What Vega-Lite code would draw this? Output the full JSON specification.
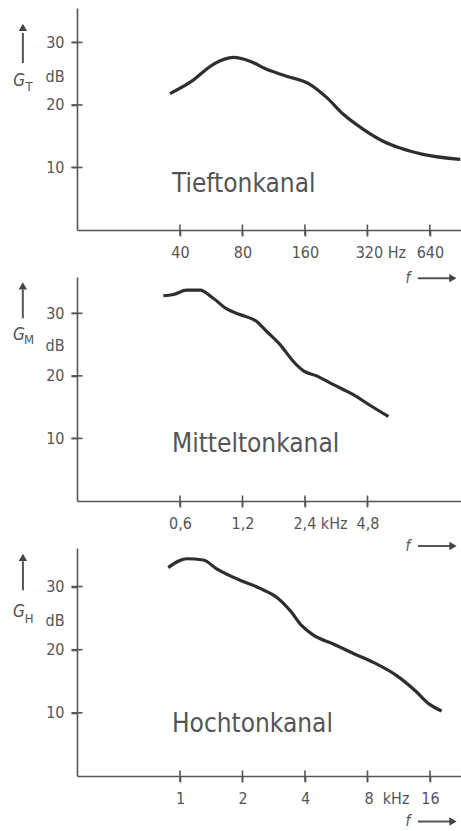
{
  "$schema": "https://vega.github.io/schema/vega-lite/v6.json",
  "background": "white",
  "padding": {"left": 13, "top": 8, "right": 0, "bottom": 4},
  "autosize": {"type": "pad"},
  "bounds": "flush",
  "spacing": 47,
  "config": {
    "view": {"stroke": null},
    "font": "'DejaVu Sans Condensed', 'DejaVu Sans', sans-serif",
    "axis": {
      "domain": true,
      "domainColor": "#555",
      "domainWidth": 1.6,
      "grid": false,
      "ticks": true,
      "tickSize": 6,
      "tickWidth": 1.6,
      "tickColor": "#555",
      "labelColor": "#555",
      "labelFont": "'DejaVu Sans Condensed', 'DejaVu Sans', sans-serif",
      "labelFontSize": 16,
      "labelOverlap": false,
      "labelFlush": false,
      "labelBound": false,
      "title": null
    },
    "axisX": {"labelPadding": 8},
    "axisY": {"labelPadding": 7},
    "tick": {"thickness": 1.6, "color": "#555", "opacity": 1}
  },
  "vconcat": [
    {
      "width": 384,
      "height": 222,
      "layer": [
        {
          "data": {"values": [
            {"f": 35.8, "dB": 21.8}, {"f": 45.6, "dB": 23.8}, {"f": 57.9, "dB": 26.5}, {"f": 72.3, "dB": 27.6},
            {"f": 87, "dB": 27.0}, {"f": 104.6, "dB": 25.7}, {"f": 130.6, "dB": 24.6}, {"f": 169, "dB": 23.3},
            {"f": 203.6, "dB": 21.2}, {"f": 245, "dB": 18.5}, {"f": 306, "dB": 16.1}, {"f": 381, "dB": 14.2},
            {"f": 460, "dB": 13.1}, {"f": 592, "dB": 12.1}, {"f": 897, "dB": 11.3}
          ]},
          "mark": {"type": "line", "interpolate": "monotone", "color": "#2e2e2e", "strokeWidth": 3.2, "clip": false},
          "encoding": {
            "x": {"field": "f", "type": "quantitative", "scale": {"type": "log", "base": 2, "domain": [12.76, 904], "nice": false},
                  "axis": {"values": [40, 80, 160, 320, 640], "labelExpr": "datum.value == 320 ? '320 Hz' : format(datum.value, 'd')",
                           "labelOffset": {"condition": {"test": "datum.value == 320", "value": 13}, "value": 0}}},
            "y": {"field": "dB", "type": "quantitative", "scale": {"domain": [0, 35.5], "nice": false, "zero": false},
                  "axis": {"values": [10, 20, 24.6, 30], "labelExpr": "datum.value == 24.6 ? 'dB' : format(datum.value, 'd')",
                           "tickOpacity": {"condition": {"test": "datum.value == 24.6", "value": 0}, "value": 1}}}
          }
        },
        {
          "data": {"values": [{"f": 40, "dB": 0}, {"f": 80, "dB": 0}, {"f": 160, "dB": 0}, {"f": 320, "dB": 0}, {"f": 640, "dB": 0}]},
          "mark": {"type": "tick", "orient": "vertical", "size": 11, "clip": false},
          "encoding": {"x": {"field": "f", "type": "quantitative"}, "y": {"field": "dB", "type": "quantitative"}}
        },
        {
          "data": {"values": [{"f": 12.76, "dB": 10}, {"f": 12.76, "dB": 20}, {"f": 12.76, "dB": 30}]},
          "mark": {"type": "tick", "orient": "horizontal", "size": 11, "clip": false},
          "encoding": {"x": {"field": "f", "type": "quantitative"}, "y": {"field": "dB", "type": "quantitative"}}
        },
        {
          "data": {"values": [{"f": 36.6, "dB": 7.4, "text": "Tieftonkanal"}]},
          "mark": {"type": "text", "align": "left", "baseline": "middle", "fontSize": 26, "color": "#555", "clip": false},
          "encoding": {"x": {"field": "f", "type": "quantitative"}, "y": {"field": "dB", "type": "quantitative"}, "text": {"field": "text"}}
        },
        {
          "data": {"values": [{"f": 6.71, "dB": 23.8, "text": "G"}]},
          "mark": {"type": "text", "align": "center", "baseline": "middle", "fontSize": 17, "fontStyle": "italic", "color": "#555", "clip": false},
          "encoding": {"x": {"field": "f", "type": "quantitative"}, "y": {"field": "dB", "type": "quantitative"}, "text": {"field": "text"}}
        },
        {
          "data": {"values": [{"f": 7.5, "dB": 22.9, "text": "T"}]},
          "mark": {"type": "text", "align": "center", "baseline": "middle", "fontSize": 13, "color": "#555", "clip": false},
          "encoding": {"x": {"field": "f", "type": "quantitative"}, "y": {"field": "dB", "type": "quantitative"}, "text": {"field": "text"}}
        },
        {
          "data": {"values": [{"f": 501, "dB": -7.7, "text": "f"}]},
          "mark": {"type": "text", "align": "center", "baseline": "middle", "fontSize": 15, "fontStyle": "italic", "color": "#555", "clip": false},
          "encoding": {"x": {"field": "f", "type": "quantitative"}, "y": {"field": "dB", "type": "quantitative"}, "text": {"field": "text"}}
        },
        {
          "data": {"values": [{"f": 7.0, "dB": 26.7, "dB2": 31.5}]},
          "mark": {"type": "rule", "color": "#555", "strokeWidth": 2, "clip": false},
          "encoding": {"x": {"field": "f", "type": "quantitative"}, "y": {"field": "dB", "type": "quantitative"}, "y2": {"field": "dB2"}}
        },
        {
          "data": {"values": [{"f": 7.0, "dB": 32.4}]},
          "mark": {"type": "point", "shape": "triangle-up", "filled": true, "size": 70, "color": "#444", "opacity": 1, "clip": false},
          "encoding": {"x": {"field": "f", "type": "quantitative"}, "y": {"field": "dB", "type": "quantitative"}}
        },
        {
          "data": {"values": [{"f": 560, "f2": 805, "dB": -7.7}]},
          "mark": {"type": "rule", "color": "#555", "strokeWidth": 2, "clip": false},
          "encoding": {"x": {"field": "f", "type": "quantitative"}, "x2": {"field": "f2"}, "y": {"field": "dB", "type": "quantitative"}}
        },
        {
          "data": {"values": [{"f": 826, "dB": -7.7}]},
          "mark": {"type": "point", "shape": "triangle-right", "filled": true, "size": 70, "color": "#444", "opacity": 1, "clip": false},
          "encoding": {"x": {"field": "f", "type": "quantitative"}, "y": {"field": "dB", "type": "quantitative"}}
        }
      ]
    },
    {
      "width": 384,
      "height": 224,
      "layer": [
        {
          "data": {"values": [
            {"f": 0.499, "dB": 32.8}, {"f": 0.557, "dB": 33.0}, {"f": 0.646, "dB": 33.7}, {"f": 0.749, "dB": 33.7},
            {"f": 0.868, "dB": 32.4}, {"f": 1.007, "dB": 30.7}, {"f": 1.167, "dB": 29.8}, {"f": 1.405, "dB": 28.7},
            {"f": 1.57, "dB": 27.1}, {"f": 1.82, "dB": 25.0}, {"f": 2.11, "dB": 22.3}, {"f": 2.36, "dB": 20.8},
            {"f": 2.73, "dB": 20.0}, {"f": 3.29, "dB": 18.6}, {"f": 4.10, "dB": 17.0}, {"f": 4.93, "dB": 15.3},
            {"f": 6.05, "dB": 13.5}
          ]},
          "mark": {"type": "line", "interpolate": "monotone", "color": "#2e2e2e", "strokeWidth": 3.2, "clip": false},
          "encoding": {
            "x": {"field": "f", "type": "quantitative", "scale": {"type": "log", "base": 2, "domain": [0.1915, 13.54], "nice": false},
                  "axis": {"values": [0.6, 1.2, 2.4, 4.8], "labelExpr": "replace(format(datum.value, '.1f'), '.', ',') + (datum.value == 2.4 ? ' kHz' : '')",
                           "labelOffset": {"condition": {"test": "datum.value == 2.4", "value": 15}, "value": 0}}},
            "y": {"field": "dB", "type": "quantitative", "scale": {"domain": [0, 35.8], "nice": false, "zero": false},
                  "axis": {"values": [10, 20, 24.8, 30], "labelExpr": "datum.value == 24.8 ? 'dB' : format(datum.value, 'd')",
                           "tickOpacity": {"condition": {"test": "datum.value == 24.8", "value": 0}, "value": 1}}}
          }
        },
        {
          "data": {"values": [{"f": 0.6, "dB": 0}, {"f": 1.2, "dB": 0}, {"f": 2.4, "dB": 0}, {"f": 4.8, "dB": 0}]},
          "mark": {"type": "tick", "orient": "vertical", "size": 11, "clip": false},
          "encoding": {"x": {"field": "f", "type": "quantitative"}, "y": {"field": "dB", "type": "quantitative"}}
        },
        {
          "data": {"values": [{"f": 0.1915, "dB": 10}, {"f": 0.1915, "dB": 20}, {"f": 0.1915, "dB": 30}]},
          "mark": {"type": "tick", "orient": "horizontal", "size": 11, "clip": false},
          "encoding": {"x": {"field": "f", "type": "quantitative"}, "y": {"field": "dB", "type": "quantitative"}}
        },
        {
          "data": {"values": [{"f": 0.549, "dB": 9.06, "text": "Mitteltonkanal"}]},
          "mark": {"type": "text", "align": "left", "baseline": "middle", "fontSize": 26, "color": "#555", "clip": false},
          "encoding": {"x": {"field": "f", "type": "quantitative"}, "y": {"field": "dB", "type": "quantitative"}, "text": {"field": "text"}}
        },
        {
          "data": {"values": [{"f": 0.1006, "dB": 26.6, "text": "G"}]},
          "mark": {"type": "text", "align": "center", "baseline": "middle", "fontSize": 17, "fontStyle": "italic", "color": "#555", "clip": false},
          "encoding": {"x": {"field": "f", "type": "quantitative"}, "y": {"field": "dB", "type": "quantitative"}, "text": {"field": "text"}}
        },
        {
          "data": {"values": [{"f": 0.1125, "dB": 25.7, "text": "M"}]},
          "mark": {"type": "text", "align": "center", "baseline": "middle", "fontSize": 13, "color": "#555", "clip": false},
          "encoding": {"x": {"field": "f", "type": "quantitative"}, "y": {"field": "dB", "type": "quantitative"}, "text": {"field": "text"}}
        },
        {
          "data": {"values": [{"f": 7.52, "dB": -7.2, "text": "f"}]},
          "mark": {"type": "text", "align": "center", "baseline": "middle", "fontSize": 15, "fontStyle": "italic", "color": "#555", "clip": false},
          "encoding": {"x": {"field": "f", "type": "quantitative"}, "y": {"field": "dB", "type": "quantitative"}, "text": {"field": "text"}}
        },
        {
          "data": {"values": [{"f": 0.105, "dB": 29.2, "dB2": 33.8}]},
          "mark": {"type": "rule", "color": "#555", "strokeWidth": 2, "clip": false},
          "encoding": {"x": {"field": "f", "type": "quantitative"}, "y": {"field": "dB", "type": "quantitative"}, "y2": {"field": "dB2"}}
        },
        {
          "data": {"values": [{"f": 0.105, "dB": 34.4}]},
          "mark": {"type": "point", "shape": "triangle-up", "filled": true, "size": 70, "color": "#444", "opacity": 1, "clip": false},
          "encoding": {"x": {"field": "f", "type": "quantitative"}, "y": {"field": "dB", "type": "quantitative"}}
        },
        {
          "data": {"values": [{"f": 8.4, "f2": 12.07, "dB": -7.2}]},
          "mark": {"type": "rule", "color": "#555", "strokeWidth": 2, "clip": false},
          "encoding": {"x": {"field": "f", "type": "quantitative"}, "x2": {"field": "f2"}, "y": {"field": "dB", "type": "quantitative"}}
        },
        {
          "data": {"values": [{"f": 12.39, "dB": -7.2}]},
          "mark": {"type": "point", "shape": "triangle-right", "filled": true, "size": 70, "color": "#444", "opacity": 1, "clip": false},
          "encoding": {"x": {"field": "f", "type": "quantitative"}, "y": {"field": "dB", "type": "quantitative"}}
        }
      ]
    },
    {
      "width": 384,
      "height": 228,
      "layer": [
        {
          "data": {"values": [
            {"f": 0.878, "dB": 33.0}, {"f": 1.077, "dB": 34.4}, {"f": 1.295, "dB": 34.2}, {"f": 1.502, "dB": 32.8},
            {"f": 1.945, "dB": 31.0}, {"f": 2.43, "dB": 29.7}, {"f": 2.92, "dB": 28.3}, {"f": 3.39, "dB": 26.2},
            {"f": 3.86, "dB": 23.8}, {"f": 4.39, "dB": 22.3}, {"f": 5.48, "dB": 20.9}, {"f": 6.84, "dB": 19.4},
            {"f": 8.53, "dB": 18.0}, {"f": 11.06, "dB": 15.9}, {"f": 13.8, "dB": 13.3}, {"f": 15.7, "dB": 11.5},
            {"f": 18.2, "dB": 10.3}
          ]},
          "mark": {"type": "line", "interpolate": "monotone", "color": "#2e2e2e", "strokeWidth": 3.2, "clip": false},
          "encoding": {
            "x": {"field": "f", "type": "quantitative", "scale": {"type": "log", "base": 2, "domain": [0.3191, 22.57], "nice": false},
                  "axis": {"values": [1, 2, 4, 8, 16], "labelExpr": "format(datum.value, 'd') + (datum.value == 8 ? '\u00a0\u00a0kHz' : '')",
                           "labelOffset": {"condition": {"test": "datum.value == 8", "value": 19}, "value": 0}}},
            "y": {"field": "dB", "type": "quantitative", "scale": {"domain": [0, 36.1], "nice": false, "zero": false},
                  "axis": {"values": [10, 20, 24.6, 30], "labelExpr": "datum.value == 24.6 ? 'dB' : format(datum.value, 'd')",
                           "tickOpacity": {"condition": {"test": "datum.value == 24.6", "value": 0}, "value": 1}}}
          }
        },
        {
          "data": {"values": [{"f": 1, "dB": 0}, {"f": 2, "dB": 0}, {"f": 4, "dB": 0}, {"f": 8, "dB": 0}, {"f": 16, "dB": 0}]},
          "mark": {"type": "tick", "orient": "vertical", "size": 11, "clip": false},
          "encoding": {"x": {"field": "f", "type": "quantitative"}, "y": {"field": "dB", "type": "quantitative"}}
        },
        {
          "data": {"values": [{"f": 0.3191, "dB": 10}, {"f": 0.3191, "dB": 20}, {"f": 0.3191, "dB": 30}]},
          "mark": {"type": "tick", "orient": "horizontal", "size": 11, "clip": false},
          "encoding": {"x": {"field": "f", "type": "quantitative"}, "y": {"field": "dB", "type": "quantitative"}}
        },
        {
          "data": {"values": [{"f": 0.915, "dB": 8.3, "text": "Hochtonkanal"}]},
          "mark": {"type": "text", "align": "left", "baseline": "middle", "fontSize": 26, "color": "#555", "clip": false},
          "encoding": {"x": {"field": "f", "type": "quantitative"}, "y": {"field": "dB", "type": "quantitative"}, "text": {"field": "text"}}
        },
        {
          "data": {"values": [{"f": 0.1677, "dB": 25.9, "text": "G"}]},
          "mark": {"type": "text", "align": "center", "baseline": "middle", "fontSize": 17, "fontStyle": "italic", "color": "#555", "clip": false},
          "encoding": {"x": {"field": "f", "type": "quantitative"}, "y": {"field": "dB", "type": "quantitative"}, "text": {"field": "text"}}
        },
        {
          "data": {"values": [{"f": 0.1875, "dB": 24.9, "text": "H"}]},
          "mark": {"type": "text", "align": "center", "baseline": "middle", "fontSize": 13, "color": "#555", "clip": false},
          "encoding": {"x": {"field": "f", "type": "quantitative"}, "y": {"field": "dB", "type": "quantitative"}, "text": {"field": "text"}}
        },
        {
          "data": {"values": [{"f": 12.53, "dB": -7.2, "text": "f"}]},
          "mark": {"type": "text", "align": "center", "baseline": "middle", "fontSize": 15, "fontStyle": "italic", "color": "#555", "clip": false},
          "encoding": {"x": {"field": "f", "type": "quantitative"}, "y": {"field": "dB", "type": "quantitative"}, "text": {"field": "text"}}
        },
        {
          "data": {"values": [{"f": 0.1752, "dB": 29.4, "dB2": 34.0}]},
          "mark": {"type": "rule", "color": "#555", "strokeWidth": 2, "clip": false},
          "encoding": {"x": {"field": "f", "type": "quantitative"}, "y": {"field": "dB", "type": "quantitative"}, "y2": {"field": "dB2"}}
        },
        {
          "data": {"values": [{"f": 0.1752, "dB": 34.6}]},
          "mark": {"type": "point", "shape": "triangle-up", "filled": true, "size": 70, "color": "#444", "opacity": 1, "clip": false},
          "encoding": {"x": {"field": "f", "type": "quantitative"}, "y": {"field": "dB", "type": "quantitative"}}
        },
        {
          "data": {"values": [{"f": 14.0, "f2": 20.1, "dB": -7.2}]},
          "mark": {"type": "rule", "color": "#555", "strokeWidth": 2, "clip": false},
          "encoding": {"x": {"field": "f", "type": "quantitative"}, "x2": {"field": "f2"}, "y": {"field": "dB", "type": "quantitative"}}
        },
        {
          "data": {"values": [{"f": 20.65, "dB": -7.2}]},
          "mark": {"type": "point", "shape": "triangle-right", "filled": true, "size": 70, "color": "#444", "opacity": 1, "clip": false},
          "encoding": {"x": {"field": "f", "type": "quantitative"}, "y": {"field": "dB", "type": "quantitative"}}
        }
      ]
    }
  ]
}
